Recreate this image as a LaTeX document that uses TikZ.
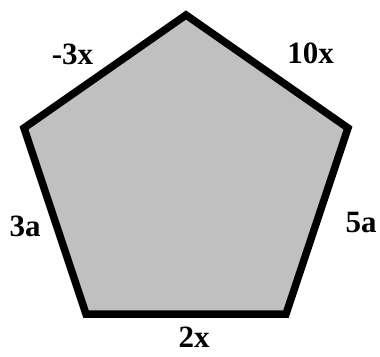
\documentclass[tikz,border=0pt]{standalone}
\usepackage{fontspec}
\setmainfont{Liberation Serif}
\usetikzlibrary{positioning}
\definecolor{shapegray}{RGB}{192, 192, 192}

\begin{document}
\begin{tikzpicture}[x=1pt, y=-1pt,
        % Styles for the pentagon and its side labels
        side/.style={draw=black, fill=shapegray, line width=7.5pt, line join=miter},
        label/.style={font=\fontsize{31}{31}\selectfont\bfseries, anchor=base, inner sep=0pt}
    ]
    \useasboundingbox (0, 0) rectangle (380, 356);

    % Corners of the pentagon
    \coordinate (top) at (186, 15);
    \coordinate (right) at (348, 128);
    \coordinate (botright) at (286, 314);
    \coordinate (botleft) at (86, 314);
    \coordinate (left) at (24, 128);

    \filldraw[side] (top) -- (right) -- (botright) -- (botleft) -- (left) -- cycle;

    % Side labels
    \node[label] (lblTL) at (72.5, 64) {-3x};
    \node[label] (lblTR) at (310.5, 63) {10x};
    \node[label] (lblL) at (25, 236) {3a};
    \node[label] (lblR) at (361, 232) {5a};
    \node[label] (lblB) at (194, 347) {2x};

\end{tikzpicture}
\end{document}
